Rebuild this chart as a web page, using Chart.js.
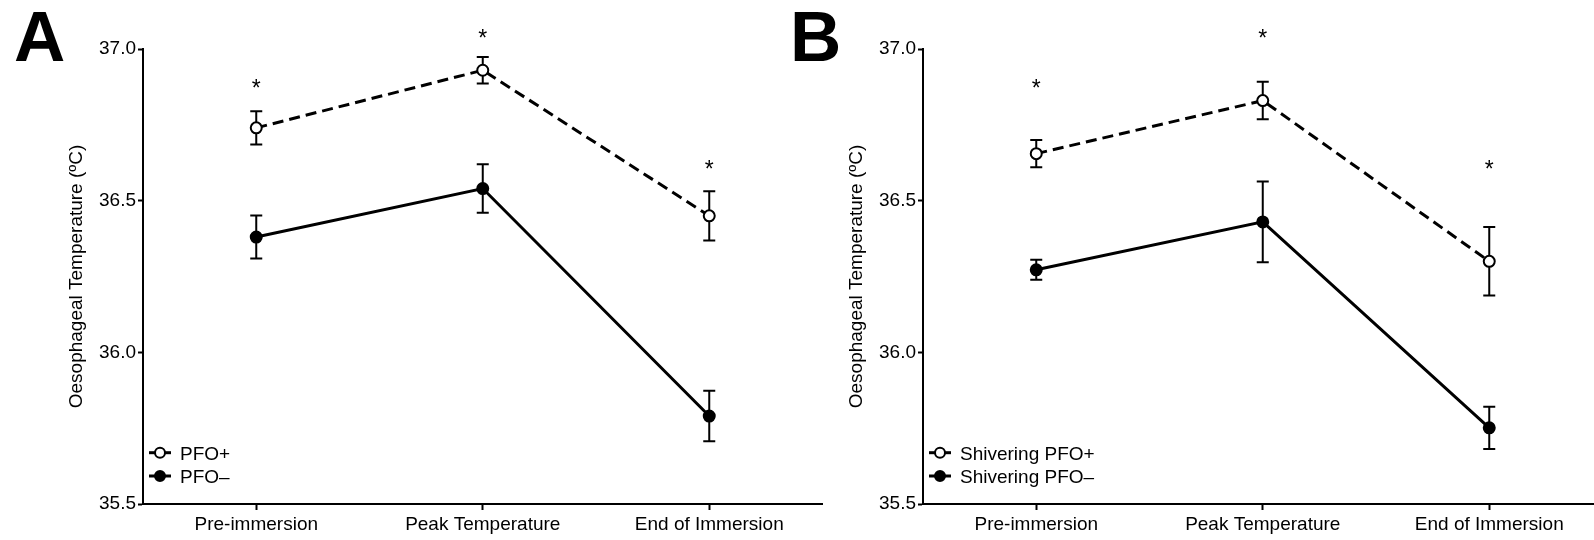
<!DOCTYPE html>
<html>
<head>
<meta charset="utf-8">
<title>Oesophageal temperature</title>
<script src="https://cdn.jsdelivr.net/npm/chart.js@4/dist/chart.umd.min.js"></script>
<style>
  html, body { margin: 0; padding: 0; background: #fff; overflow: hidden; width: 1594px; height: 540px; }
  .panel { position: absolute; top: 0; }
  .letter { position: absolute; top: 1px; font: bold 71px 'Liberation Sans', Arial, sans-serif; line-height: 71px; color: #000; }
</style>
</head>
<body>
<canvas id="chartA" class="panel" width="830" height="540" style="left:0"></canvas>
<canvas id="chartB" class="panel" width="830" height="540" style="left:780px"></canvas>
<div class="letter" style="left:14px">A</div>
<div class="letter" style="left:790px">B</div>
<script>
// time points and axis
const categories = ['Pre-immersion', 'Peak Temperature', 'End of Immersion'];
const yTicks = [35.5, 36.0, 36.5, 37.0];
const yTitle = 'Oesophageal Temperature (\u00BAC)';

// panel A: all subjects (mean, SEM)
const pfoPosMean = [36.74, 36.93, 36.45];
const pfoPosSem = [0.055, 0.044, 0.081];
const pfoNegMean = [36.38, 36.54, 35.79];
const pfoNegSem = [0.071, 0.080, 0.083];
const starsA = [36.888, 37.053, 36.620];

// panel B: shivering subjects (mean, SEM)
const shivPosMean = [36.655, 36.83, 36.30];
const shivPosSem = [0.045, 0.062, 0.113];
const shivNegMean = [36.272, 36.43, 35.751];
const shivNegSem = [0.033, 0.133, 0.070];
const starsB = [36.888, 37.053, 36.620];

const FONT = "'Liberation Sans', Arial, Helvetica, sans-serif";

function buildPanel(canvasId, series, stars) {
  // SEM whiskers, drawn under the lines so open markers hide them
  const errorBars = {
    id: 'errorBars',
    beforeDatasetsDraw(chart) {
      const { ctx, scales: { x, y } } = chart;
      ctx.save();
      ctx.strokeStyle = '#000';
      ctx.lineWidth = 2;
      series.forEach(s => {
        s.mean.forEach((m, i) => {
          const px = x.getPixelForValue(i);
          const top = y.getPixelForValue(m + s.sem[i]);
          const bot = y.getPixelForValue(m - s.sem[i]);
          ctx.beginPath();
          ctx.moveTo(px, top); ctx.lineTo(px, bot);
          ctx.moveTo(px - 6, top); ctx.lineTo(px + 6, top);
          ctx.moveTo(px - 6, bot); ctx.lineTo(px + 6, bot);
          ctx.stroke();
        });
      });
      ctx.restore();
    }
  };

  // significance asterisks and the inset legend
  const annotations = {
    id: 'annotations',
    afterDraw(chart) {
      const { ctx, chartArea, scales: { x, y } } = chart;
      ctx.save();
      ctx.fillStyle = '#000';
      ctx.font = '23px ' + FONT;
      ctx.textAlign = 'center';
      ctx.textBaseline = 'alphabetic';
      stars.forEach((v, i) => {
        ctx.fillText('*', x.getPixelForValue(i), y.getPixelForValue(v) + 13);
      });

      ctx.font = '19px ' + FONT;
      ctx.textAlign = 'left';
      series.forEach((s, i) => {
        const cy = chartArea.bottom - 51.3 + i * 23.3;
        const x0 = chartArea.left + 6;
        ctx.setLineDash([]);
        ctx.strokeStyle = '#000';
        ctx.lineWidth = 3;
        ctx.beginPath();
        ctx.moveTo(x0, cy); ctx.lineTo(x0 + 22, cy);
        ctx.stroke();
        ctx.beginPath();
        ctx.arc(x0 + 11, cy, 5, 0, Math.PI * 2);
        ctx.fillStyle = s.fill;
        ctx.fill();
        ctx.lineWidth = 2;
        ctx.stroke();
        ctx.fillStyle = '#000';
        ctx.fillText(s.label, x0 + 31, cy + 7);
      });
      ctx.restore();
    }
  };

  return new Chart(document.getElementById(canvasId), {
    type: 'line',
    data: {
      labels: categories,
      datasets: series.map(s => ({
        label: s.label,
        data: s.mean,
        borderColor: '#000',
        borderWidth: 3,
        borderDash: s.dashed ? [11, 6] : [],
        pointRadius: 5.5,
        pointBorderWidth: 2,
        pointBorderColor: '#000',
        pointBackgroundColor: s.fill,
        tension: 0,
        fill: false
      }))
    },
    options: {
      responsive: false,
      animation: false,
      layout: { padding: { top: 49, right: 7, bottom: 0, left: 0 } },
      plugins: { legend: { display: false }, tooltip: { enabled: false } },
      scales: {
        x: {
          type: 'category',
          offset: true,
          afterFit: scale => { scale.height = 36; },
          border: { display: true, color: '#000', width: 2 },
          grid: { display: true, drawOnChartArea: false, drawTicks: true, tickLength: 6, tickWidth: 2, tickColor: '#000', offset: false },
          ticks: { color: '#000', font: { family: FONT, size: 19 }, padding: 3, maxRotation: 0, autoSkip: false }
        },
        y: {
          min: 35.5,
          max: 37.0,
          afterFit: scale => { scale.width = 143; },
          afterBuildTicks: scale => { scale.ticks = yTicks.map(v => ({ value: v })); },
          border: { display: true, color: '#000', width: 2 },
          grid: { display: true, drawOnChartArea: false, drawTicks: true, tickLength: 5, tickWidth: 2, tickColor: '#000' },
          ticks: { color: '#000', font: { family: FONT, size: 19 }, padding: 2, callback: v => Number(v).toFixed(1) },
          title: { display: true, text: yTitle, color: '#000', font: { family: FONT, size: 19 }, padding: { top: 65, bottom: 0 } }
        }
      }
    },
    plugins: [errorBars, annotations]
  });
}

buildPanel('chartA', [
  { label: 'PFO+', mean: pfoPosMean, sem: pfoPosSem, dashed: true, fill: '#fff' },
  { label: 'PFO\u2013', mean: pfoNegMean, sem: pfoNegSem, dashed: false, fill: '#000' }
], starsA);

buildPanel('chartB', [
  { label: 'Shivering PFO+', mean: shivPosMean, sem: shivPosSem, dashed: true, fill: '#fff' },
  { label: 'Shivering PFO\u2013', mean: shivNegMean, sem: shivNegSem, dashed: false, fill: '#000' }
], starsB);
</script>
</body>
</html>
